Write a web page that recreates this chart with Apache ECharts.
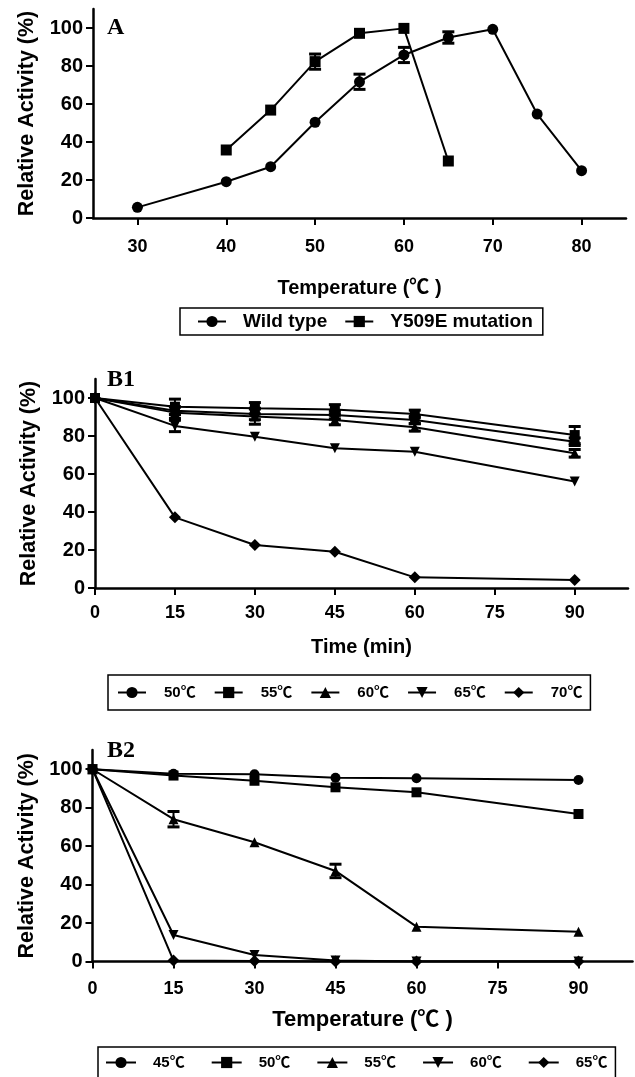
<!DOCTYPE html>
<html><head><meta charset="utf-8">
<script src="https://cdn.jsdelivr.net/npm/echarts@6/dist/echarts.min.js"></script>
<style>html,body{margin:0;padding:0;background:#fff}#c{width:635px;height:1077px}</style>
</head><body><div id="c"></div>
<script>
// ---------- Panel A ----------
const tempsWT = [30, 40, 45, 50, 55, 60, 65, 70, 75, 80];
const wildType = [5.6, 19.1, 27, 50.4, 71.7, 85.8, 95, 99.3, 54.7, 24.9];
const wildTypeErr = [0, 0, 0, 0, 4, 4, 3, 0, 0, 0];
const tempsY509E = [40, 45, 50, 55, 60, 65];
const y509e = [35.8, 56.8, 82.3, 97.2, 99.8, 30];
const y509eErr = [0, 0, 4, 0, 0, 0];
const tempTicksA = [30, 40, 50, 60, 70, 80];
const activityTicks = [0, 20, 40, 60, 80, 100];
const legendA = ['Wild type', 'Y509E mutation'];

// ---------- Panel B1 ----------
const timesB = [0, 15, 30, 45, 60, 90];
const timeTicks = [0, 15, 30, 45, 60, 75, 90];
const b1Names = ['50℃', '55℃', '60℃', '65℃', '70℃'];
const b1_50 = [100, 93.3, 91.6, 91, 88.4, 77];
const b1_55 = [100, 95.4, 94.6, 94, 91.6, 80.5];
const b1_60 = [100, 92.3, 90.2, 88.4, 84.6, 70.9];
const b1_65 = [100, 85.3, 79.6, 73.5, 71.7, 56];
const b1_70 = [100, 37.2, 22.6, 19.1, 5.6, 4.2];
const b1_50Err = [0, 2, 3, 2, 2, 2];
const b1_55Err = [0, 4, 3, 2.5, 2, 4.5];
const b1_60Err = [0, 3, 4, 2.5, 2, 2];
const b1_65Err = [0, 3, 0, 0, 0, 0];
const b1_70Err = [0, 0, 0, 0, 0, 0];

// ---------- Panel B2 ----------
const b2Names = ['45℃', '50℃', '55℃', '60℃', '65℃'];
const b2_45 = [100, 97.6, 97.4, 95.6, 95.3, 94.4];
const b2_50 = [100, 96.7, 94, 90.6, 88, 76.7];
const b2_55 = [100, 74, 62, 47.1, 18.1, 15.5];
const b2_60 = [100, 13.8, 3.4, 0.5, 0, 0];
const b2_65 = [100, 0.5, 0.3, 0, 0, 0];
const b2_45Err = [0, 0, 0, 0, 0, 0];
const b2_50Err = [0, 0, 0, 0, 0, 0];
const b2_55Err = [0, 4, 0, 3.5, 0, 0];
const b2_60Err = [0, 0, 0, 0, 0, 0];
const b2_65Err = [0, 0, 0, 0, 0, 0];

const FONT = '"Liberation Sans", Arial, "Noto Sans CJK SC", sans-serif';
const SERIF = '"Liberation Serif", "Times New Roman", serif';
const downTri = 'path://M0,0 L10,0 L5,10 Z';
const symbolsB = ['circle', 'rect', 'triangle', downTri, 'diamond'];

function zip(xs, ys) { return xs.map((x, i) => [x, ys[i]]); }

function lineSeries(name, idx, xs, ys, symbol, size) {
  return {
    type: 'line', name, xAxisIndex: idx, yAxisIndex: idx,
    data: zip(xs, ys), symbol, symbolSize: size || 10,
    lineStyle: { color: '#000', width: 2 },
    itemStyle: { color: '#000' }, z: 4
  };
}

function errSeries(idx, xs, ys, errs) {
  const data = [];
  xs.forEach((x, i) => { if (errs[i] > 0) data.push([x, ys[i] - errs[i], ys[i] + errs[i]]); });
  return {
    type: 'custom', xAxisIndex: idx, yAxisIndex: idx, data, z: 5, silent: true,
    encode: { x: 0, y: [1, 2] },
    renderItem(params, api) {
      const x = api.value(0);
      const lo = api.coord([x, api.value(1)]);
      const hi = api.coord([x, api.value(2)]);
      const w = 6;
      return {
        type: 'group', children: [
          { type: 'line', shape: { x1: lo[0], y1: lo[1], x2: hi[0], y2: hi[1] }, style: { stroke: '#000', lineWidth: 2 } },
          { type: 'line', shape: { x1: lo[0] - w, y1: lo[1], x2: lo[0] + w, y2: lo[1] }, style: { stroke: '#000', lineWidth: 3 } },
          { type: 'line', shape: { x1: hi[0] - w, y1: hi[1], x2: hi[0] + w, y2: hi[1] }, style: { stroke: '#000', lineWidth: 3 } }
        ]
      };
    }
  };
}

function xAxis(idx, min, max, ticks, name, nameGap, nameSize, labelMargin) {
  return {
    type: 'value', gridIndex: idx, min, max,
    name, nameLocation: 'middle', nameGap,
    nameTextStyle: { fontFamily: FONT, fontWeight: 'bold', fontSize: nameSize, color: '#000' },
    axisLine: { show: true, lineStyle: { color: '#000', width: 2.5 } },
    axisTick: { show: true, length: 7, lineStyle: { color: '#000', width: 2 }, customValues: ticks },
    axisLabel: { customValues: ticks, margin: labelMargin, fontFamily: FONT, fontWeight: 'bold', fontSize: 18, color: '#000' },
    splitLine: { show: false }
  };
}
function yAxis(idx) {
  return {
    type: 'value', gridIndex: idx, min: 0, max: 110,
    name: 'Relative Activity (%)', nameLocation: 'middle', nameGap: 55, nameRotate: 90,
    nameTextStyle: { fontFamily: FONT, fontWeight: 'bold', fontSize: 21.5, color: '#000' },
    axisLine: { show: true, lineStyle: { color: '#000', width: 2.5 } },
    axisTick: { show: true, length: 7, lineStyle: { color: '#000', width: 2 }, customValues: activityTicks },
    axisLabel: { customValues: activityTicks, margin: 10, fontFamily: FONT, fontWeight: 'bold', fontSize: 20, color: '#000' },
    splitLine: { show: false }
  };
}

function legend(left, top, names, padding, itemWidth, itemGap, textPad, fontSize) {
  return {
    left, top, orient: 'horizontal', data: names,
    borderColor: '#000', borderWidth: 1.5, borderRadius: 0, padding,
    itemWidth, itemHeight: 14, itemGap,
    formatter: n => n.trim(),
    textStyle: { fontFamily: FONT, fontWeight: 'bold', fontSize, color: '#000', padding: [0, 0, 0, textPad] },
    selectedMode: false
  };
}

const b1Data = [b1_50, b1_55, b1_60, b1_65, b1_70];
const b1Err = [b1_50Err, b1_55Err, b1_60Err, b1_65Err, b1_70Err];
const b2Data = [b2_45, b2_50, b2_55, b2_60, b2_65];
const b2Err = [b2_45Err, b2_50Err, b2_55Err, b2_60Err, b2_65Err];
const b2SeriesNames = b2Names.map(n => n + ' ');

const series = [
  lineSeries(legendA[0], 0, tempsWT, wildType, 'circle', 11),
  lineSeries(legendA[1], 0, tempsY509E, y509e, 'rect', 11),
  errSeries(0, tempsWT, wildType, wildTypeErr),
  errSeries(0, tempsY509E, y509e, y509eErr)
];
b1Names.forEach((n, i) => {
  series.push(lineSeries(n, 1, timesB, b1Data[i], symbolsB[i], i === 4 ? 12 : 10));
  series.push(errSeries(1, timesB, b1Data[i], b1Err[i]));
});
b2SeriesNames.forEach((n, i) => {
  series.push(lineSeries(n, 2, timesB, b2Data[i], symbolsB[i], i === 4 ? 12 : 10));
  series.push(errSeries(2, timesB, b2Data[i], b2Err[i]));
});

const chart = echarts.init(document.getElementById('c'), null, { renderer: 'canvas' });
chart.setOption({
  animation: false,
  backgroundColor: '#fff',
  grid: [
    { left: 93, top: 9, width: 533, height: 209 },
    { left: 95, top: 379, width: 533, height: 209 },
    { left: 92.5, top: 750, width: 540, height: 211.5 }
  ],
  xAxis: [
    xAxis(0, 25, 85, tempTicksA, 'Temperature (℃ )', 60, 20, 20),
    xAxis(1, 0, 100, timeTicks, 'Time (min)', 49, 20, 16),
    xAxis(2, 0, 100, timeTicks, 'Temperature (℃ )', 47, 22, 19)
  ],
  yAxis: [yAxis(0), yAxis(1), yAxis(2)],
  legend: [
    legend(180, 308, legendA, [4, 10, 4, 17], 28, 17, 12, 19),
    legend(108, 675, b1Names, [10, 8, 10, 9], 28, 18, 13, 15),
    legend(98, 1047, b2SeriesNames, [8, 8, 8, 7], 30, 26, 12, 15)
  ],
  graphic: [
    { type: 'text', left: 107, top: 16, style: { text: 'A', font: 'bold 24px ' + SERIF, fill: '#000' } },
    { type: 'text', left: 107, top: 368, style: { text: 'B1', font: 'bold 24px ' + SERIF, fill: '#000' } },
    { type: 'text', left: 107, top: 739, style: { text: 'B2', font: 'bold 24px ' + SERIF, fill: '#000' } }
  ],
  series
});
</script></body></html>
